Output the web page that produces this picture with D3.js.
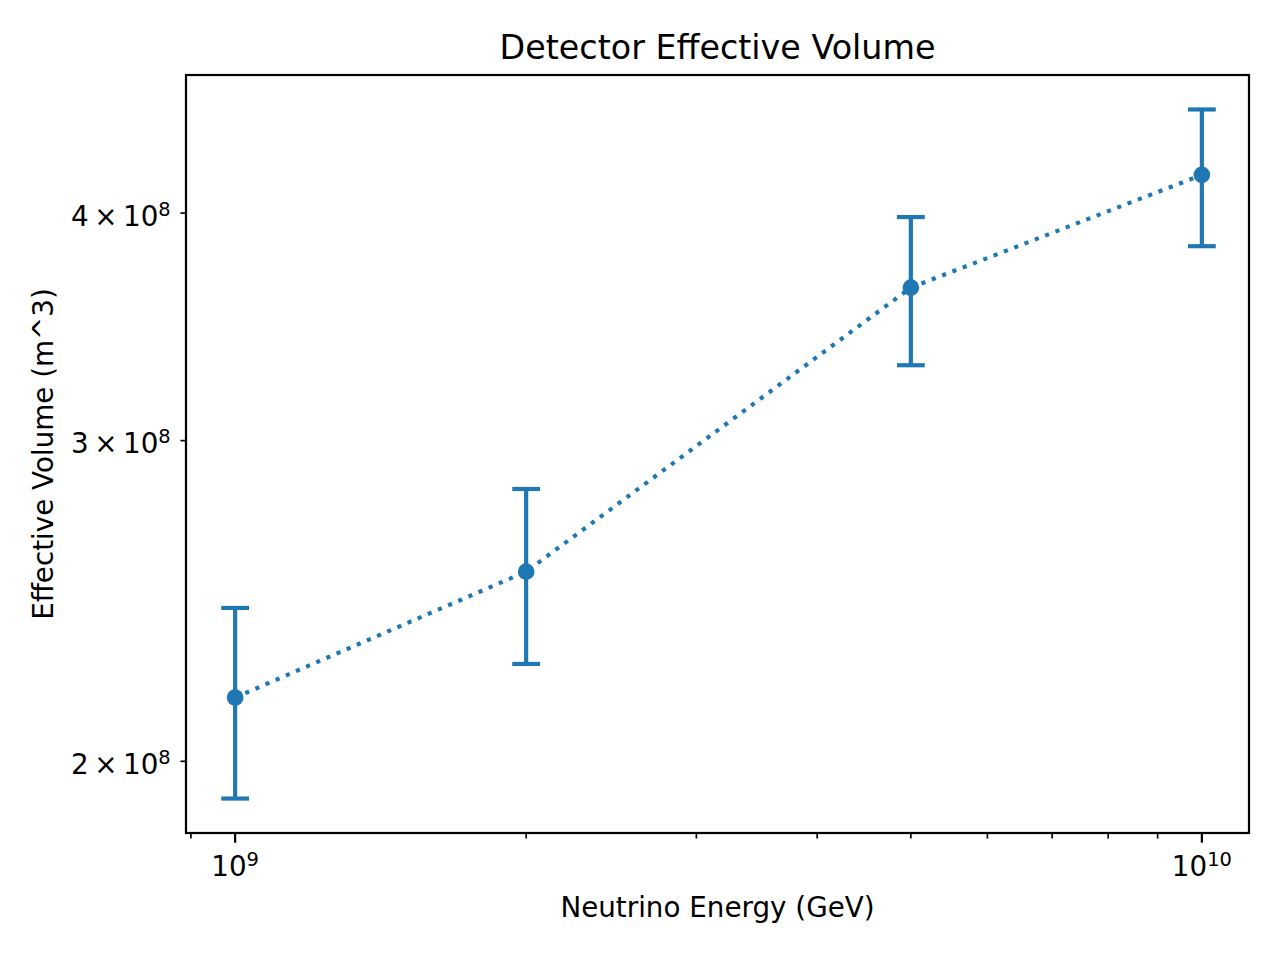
<!DOCTYPE html>
<html>
<head>
<meta charset="utf-8">
<script src="https://cdn.jsdelivr.net/npm/d3@7"></script>
<style>
  html, body { margin: 0; padding: 0; background: #fff; }
  text { font-family: "DejaVu Sans", sans-serif; fill: #000; }
</style>
</head>
<body>
<svg id="chart" width="1280" height="960"></svg>
<script>
// ---- data ----
const energies = [1e9, 2e9, 5e9, 1e10];
const volumes = [2.168e8, 2.542e8, 3.64e8, 4.198e8];
const errors = [0.26e8, 0.28e8, 0.34e8, 0.362e8];
const xMajorTicks = [1e9, 1e10];
const xMajorLabels = [["10", "9"], ["10", "10"]];
const xMinorTicks = [8e8, 9e8, 2e9, 3e9, 4e9, 5e9, 6e9, 7e9, 8e9, 9e9, 2e10];
const yMinorTicks = [2e8, 3e8, 4e8];
const yMinorLabels = [["2", "10", "8"], ["3", "10", "8"], ["4", "10", "8"]];
const titleText = "Detector Effective Volume";
const xLabelText = "Neutrino Energy (GeV)";
const yLabelText = "Effective Volume (m^3)";

// ---- layout ----
const pLeft = 186, pRight = 1249, pTop = 75, pBottom = 833;
const color = "#1f77b4";
const fs = 27.78;

const svg = d3.select("#chart");

// log-space 5% margins like matplotlib
function logDomain(lo, hi) {
  const a = Math.log10(lo), b = Math.log10(hi), m = (b - a) * 0.05;
  return [Math.pow(10, a - m), Math.pow(10, b + m)];
}
const xDom = logDomain(d3.min(energies), d3.max(energies));
const yDom = logDomain(
  d3.min(volumes.map((v, i) => v - errors[i])),
  d3.max(volumes.map((v, i) => v + errors[i]))
);
const x = d3.scaleLog().domain(xDom).range([pLeft + 0.8, pRight + 1.2]);
const y = d3.scaleLog().domain(yDom).range([pBottom, pTop]);

const inRangeX = v => v >= xDom[0] && v <= xDom[1];
const inRangeY = v => v >= yDom[0] && v <= yDom[1];

// ---- plot content ----
const g = svg.append("g");
// error bars
energies.forEach((e, i) => {
  const cx = x(e);
  const y1 = y(volumes[i] + errors[i]);
  const y2 = y(volumes[i] - errors[i]);
  g.append("line").attr("x1", cx).attr("x2", cx).attr("y1", y1).attr("y2", y2)
    .attr("stroke", color).attr("stroke-width", 4.17);
  [y1, y2].forEach(yy => {
    g.append("line").attr("x1", cx - 13.9).attr("x2", cx + 13.9).attr("y1", yy).attr("y2", yy)
      .attr("stroke", color).attr("stroke-width", 4.17);
  });
});
// dotted line
const lineGen = d3.line().x((d, i) => x(energies[i])).y(d => y(d));
g.append("path").datum(volumes).attr("d", lineGen)
  .attr("fill", "none").attr("stroke", color).attr("stroke-width", 4.17)
  .attr("stroke-dasharray", "4.17 6.88");
// markers
g.selectAll("circle.pt").data(volumes).enter().append("circle")
  .attr("cx", (d, i) => x(energies[i])).attr("cy", d => y(d)).attr("r", 8.33)
  .attr("fill", color);

// ---- axes frame ----
svg.append("rect").attr("x", pLeft).attr("y", pTop)
  .attr("width", pRight - pLeft).attr("height", pBottom - pTop)
  .attr("fill", "none").attr("stroke", "#000").attr("stroke-width", 2.22);

// x ticks
const xAxisG = svg.append("g");
xMajorTicks.forEach((t, i) => {
  const px = x(t);
  xAxisG.append("line").attr("x1", px).attr("x2", px).attr("y1", pBottom).attr("y2", pBottom + 9.72)
    .attr("stroke", "#000").attr("stroke-width", 2.22);
  const txt = xAxisG.append("text").attr("x", px).attr("y", 876).attr("text-anchor", "middle")
    .style("font-size", fs + "px");
  txt.append("tspan").text(xMajorLabels[i][0]);
  txt.append("tspan").attr("dy", -10).style("font-size", (fs * 0.7) + "px").text(xMajorLabels[i][1]);
});
xMinorTicks.filter(inRangeX).forEach(t => {
  const px = x(t);
  xAxisG.append("line").attr("x1", px).attr("x2", px).attr("y1", pBottom).attr("y2", pBottom + 5.56)
    .attr("stroke", "#000").attr("stroke-width", 1.67);
});

// y ticks (minor, labelled)
const yAxisG = svg.append("g");
yMinorTicks.forEach((t, i) => {
  if (!inRangeY(t)) return;
  const py = y(t);
  yAxisG.append("line").attr("x1", pLeft - 5.56).attr("x2", pLeft).attr("y1", py).attr("y2", py)
    .attr("stroke", "#000").attr("stroke-width", 1.67);
  const txt = yAxisG.append("text").attr("x", pLeft - 5.56 - 9.72).attr("y", py + 12.5)
    .attr("text-anchor", "end").style("font-size", fs + "px");
  txt.append("tspan").text(yMinorLabels[i][0]);
  txt.append("tspan").attr("dx", 5.5).text("\u00d7");
  txt.append("tspan").attr("dx", 5.5).text(yMinorLabels[i][1]);
  txt.append("tspan").attr("dy", -10).style("font-size", (fs * 0.7) + "px").text(yMinorLabels[i][2]);
});

// ---- labels ----
svg.append("text").attr("x", (pLeft + pRight) / 2).attr("y", 58.8).attr("text-anchor", "middle")
  .style("font-size", (fs * 1.2) + "px").text(titleText);
svg.append("text").attr("x", (pLeft + pRight) / 2).attr("y", 917).attr("text-anchor", "middle")
  .style("font-size", fs + "px").text(xLabelText);
svg.append("text").attr("transform", `translate(53,${(pTop + pBottom) / 2}) rotate(-90)`)
  .attr("text-anchor", "middle").style("font-size", fs + "px").text(yLabelText);
</script>
</body>
</html>
